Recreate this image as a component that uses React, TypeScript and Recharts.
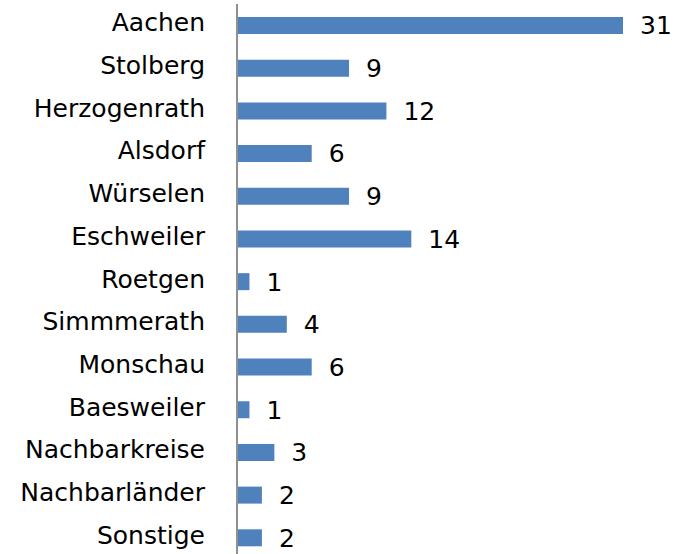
import { BarChart, Bar, XAxis, YAxis, LabelList } from "recharts"

const places = [
  "Aachen",
  "Stolberg",
  "Herzogenrath",
  "Alsdorf",
  "Würselen",
  "Eschweiler",
  "Roetgen",
  "Simmmerath",
  "Monschau",
  "Baesweiler",
  "Nachbarkreise",
  "Nachbarländer",
  "Sonstige",
]
const counts = [31, 9, 12, 6, 9, 14, 1, 4, 6, 1, 3, 2, 2]

const data = places.map((name, i) => ({ name, value: counts[i] }))

const font = "'DejaVu Sans', Verdana, sans-serif"

function PlaceTick(props: any) {
  const { x, y, payload } = props
  return (
    <text x={x} y={y} dy={6} textAnchor="end" fill="#000" fontSize={25} fontFamily={font}>
      {payload.value}
    </text>
  )
}

export default function App() {
  return (
    <div style={{ position: "absolute", left: 0, top: 0, width: 684, height: 554, overflow: "hidden", background: "#fff" }}>
      <BarChart
        width={684}
        height={560}
        data={data}
        layout="vertical"
        margin={{ top: 4, right: 61, bottom: 1, left: 0 }}
      >
        <XAxis type="number" domain={[0, 31]} hide />
        <YAxis
          type="category"
          dataKey="name"
          width={237}
          tickLine={false}
          tickSize={0}
          tickMargin={32}
          axisLine={{ stroke: "#909090", strokeWidth: 2 }}
          tick={<PlaceTick />}
          interval={0}
        />
        <Bar dataKey="value" fill="#4f81bd" barSize={17} isAnimationActive={false}>
          <LabelList
            dataKey="value"
            position="right"
            offset={17}
            fill="#000"
            fontSize={25}
            fontFamily={font}
          />
        </Bar>
      </BarChart>
    </div>
  )
}
